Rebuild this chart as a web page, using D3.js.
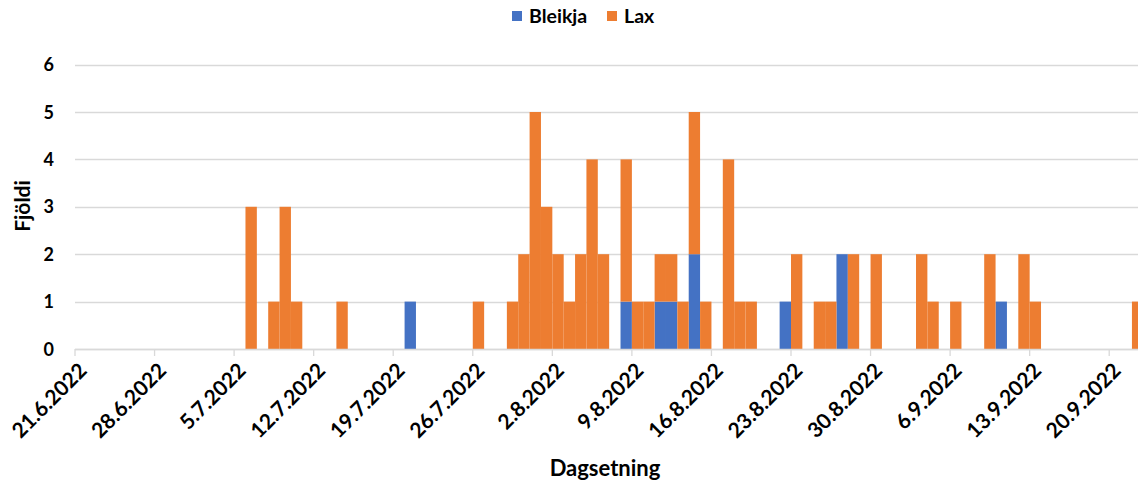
<!DOCTYPE html>
<html>
<head>
<meta charset="utf-8">
<script src="https://cdn.jsdelivr.net/npm/d3@7"></script>
<style>
  html, body { margin: 0; padding: 0; background: #fff; }
  svg { display: block; font-family: Lato, "Open Sans", "Liberation Sans", sans-serif; }
</style>
</head>
<body>
<svg id="chart" width="1138" height="486"></svg>
<script>
// Veiðidagar (dd.m.yyyy) og fjöldi fiska á dag
const dagar = [
  "6.7.2022", "8.7.2022", "9.7.2022", "10.7.2022", "14.7.2022", "20.7.2022",
  "26.7.2022", "29.7.2022", "30.7.2022", "31.7.2022", "1.8.2022", "2.8.2022",
  "3.8.2022", "4.8.2022", "5.8.2022", "6.8.2022", "8.8.2022", "9.8.2022",
  "10.8.2022", "11.8.2022", "12.8.2022", "13.8.2022", "14.8.2022", "15.8.2022",
  "17.8.2022", "18.8.2022", "19.8.2022", "22.8.2022", "23.8.2022", "25.8.2022",
  "26.8.2022", "27.8.2022", "28.8.2022", "30.8.2022", "3.9.2022", "4.9.2022",
  "6.9.2022", "9.9.2022", "10.9.2022", "12.9.2022", "13.9.2022", "22.9.2022"
];
const bleikja = [
  0, 0, 0, 0, 0, 1,
  0, 0, 0, 0, 0, 0,
  0, 0, 0, 0, 1, 0,
  0, 1, 1, 0, 2, 0,
  0, 0, 0, 1, 0, 0,
  0, 2, 0, 0, 0, 0,
  0, 0, 1, 0, 0, 0
];
const lax = [
  3, 1, 3, 1, 1, 0,
  1, 1, 2, 5, 3, 2,
  1, 2, 4, 2, 3, 1,
  1, 1, 1, 1, 3, 1,
  4, 1, 1, 0, 2, 1,
  1, 0, 2, 2, 2, 1,
  1, 2, 0, 2, 1, 1
];
const tegundir = ["Bleikja", "Lax"];
const litir = ["#4472C4", "#ED7D31"];
const yTicks = [0, 1, 2, 3, 4, 5, 6];
const xTickStart = "21.6.2022";
const xTickEnd = "20.9.2022";

const parse = d3.utcParse("%d.%m.%Y");
const fmt = d3.utcFormat("%-d.%-m.%Y");

const rows = dagar.map((d, i) => ({ dagur: parse(d), Bleikja: bleikja[i], Lax: lax[i] }));
const stacked = d3.stack().keys(tegundir)(rows);

const svg = d3.select("#chart");
const left = 75, dayPx = 11.365;
const start = parse(xTickStart);
const domEnd = d3.utcDay.offset(start, 96);

const x = d3.scaleUtc().domain([start, domEnd]).range([left, left + 96 * dayPx]);
const y = d3.scaleLinear().domain([0, 6]).range([349, 64.6]);

// Lárétt hnitanet
svg.append("g")
  .selectAll("line")
  .data(yTicks)
  .join("line")
  .attr("x1", left).attr("x2", 1138)
  .attr("y1", d => Math.round(y(d)) + 0.5).attr("y2", d => Math.round(y(d)) + 0.5)
  .attr("stroke", "#d9d9d9").attr("stroke-width", 1.3);

// Y-ás merkingar
svg.append("g")
  .selectAll("text")
  .data(yTicks)
  .join("text")
  .attr("x", 54).attr("y", d => y(d) + 6.5)
  .attr("text-anchor", "end")
  .attr("font-size", 18).attr("font-weight", "bold").attr("fill", "#000")
  .text(d => d);

// Staflaðar súlur, ein á dag
svg.append("g")
  .selectAll("g")
  .data(stacked)
  .join("g")
  .attr("fill", (d, i) => litir[i])
  .selectAll("rect")
  .data(d => d.filter(p => p[1] > p[0]))
  .join("rect")
  .attr("x", d => x(d.data.dagur))
  .attr("width", d => x(d3.utcDay.offset(d.data.dagur, 1)) - x(d.data.dagur))
  .attr("y", d => y(d[1]))
  .attr("height", d => y(d[0]) - y(d[1]));

// X-ás og vikumerkingar
const tickDates = d3.utcDays(start, d3.utcDay.offset(parse(xTickEnd), 1), 7);
const xa = svg.append("g");
xa.append("line")
  .attr("x1", left).attr("x2", 1138).attr("y1", 349.5).attr("y2", 349.5)
  .attr("stroke", "#d9d9d9").attr("stroke-width", 1.3);
xa.selectAll("line.tk")
  .data(tickDates)
  .join("line")
  .attr("class", "tk")
  .attr("x1", d => x(d)).attr("x2", d => x(d))
  .attr("y1", 349).attr("y2", 356)
  .attr("stroke", "#d9d9d9").attr("stroke-width", 1.3);
xa.selectAll("text")
  .data(tickDates)
  .join("text")
  .attr("transform", d => `translate(${x(d) + 13},${372}) rotate(-45)`)
  .attr("text-anchor", "end")
  .attr("font-size", 21).attr("font-weight", "bold").attr("fill", "#000")
  .text(d => fmt(d));

// Ásaheiti
svg.append("text")
  .attr("x", 605).attr("y", 476)
  .attr("text-anchor", "middle")
  .attr("font-size", 22).attr("font-weight", "bold").attr("fill", "#000")
  .text("Dagsetning");
svg.append("text")
  .attr("transform", "translate(30,206) rotate(-90)")
  .attr("text-anchor", "middle")
  .attr("font-size", 21).attr("font-weight", "bold").attr("fill", "#000")
  .text("Fjöldi");

// Skýringar
const legend = svg.append("g");
const lx = [512, 607];
tegundir.forEach((t, i) => {
  legend.append("rect")
    .attr("x", lx[i]).attr("y", 11).attr("width", 10).attr("height", 10)
    .attr("fill", litir[i]);
  legend.append("text")
    .attr("x", lx[i] + 17).attr("y", 23)
    .attr("font-size", 19.5).attr("font-weight", "bold").attr("fill", "#000")
    .text(t);
});
</script>
</body>
</html>
